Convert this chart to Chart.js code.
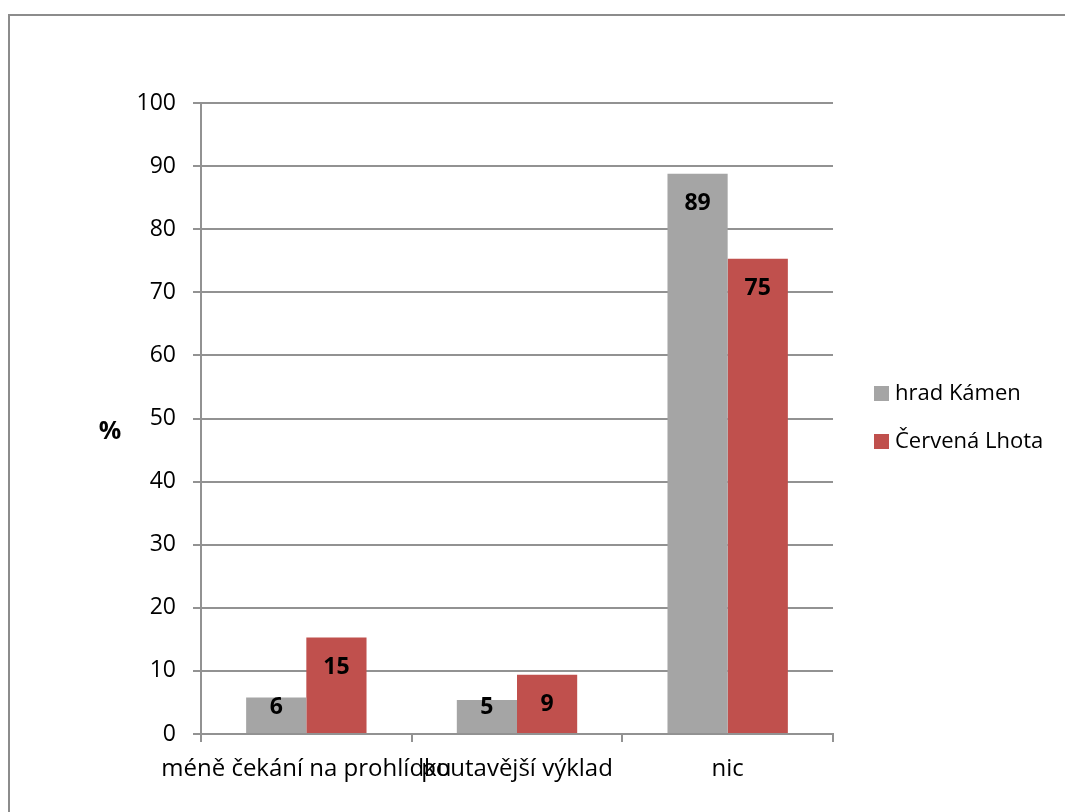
<!DOCTYPE html>
<html>
<head>
<meta charset="utf-8">
<script src="https://cdn.jsdelivr.net/npm/chart.js@4.4.1/dist/chart.umd.min.js"></script>
<style>
  html, body { margin: 0; padding: 0; background: #fff; overflow: hidden; }
  #wrap { position: relative; width: 1065px; height: 812px; }
  #frame { position: absolute; left: 8px; top: 14px; width: 1200px; height: 900px;
           border-left: 2px solid #8c8c8c; border-top: 2px solid #8c8c8c; box-sizing: border-box; }
  #cv { position: absolute; left: 0; top: 0; }
</style>
</head>
<body>
<div id="wrap">
  <div id="frame"></div>
  <canvas id="cv" width="1065" height="812"></canvas>
</div>
<script>
// Survey answers: what would improve the castle tour (share of respondents, %)
const categories = ['méně čekání na prohlídku', 'poutavější výklad', 'nic'];
const hradKamen = [5.8, 5.4, 88.8];
const cervenaLhota = [15.3, 9.4, 75.3];
const seriesNames = ['hrad Kámen', 'Červená Lhota'];
const yTicks = [0, 10, 20, 30, 40, 50, 60, 70, 80, 90, 100];
const axisTitle = '%';

const FONT = '"Open Sans", Lato, sans-serif';
const GRID = '#929292';
const colors = ['#A5A5A5', '#C0504D'];

// Value labels sit just inside the top of each bar, kept clear of the axis for short bars
const valueLabels = {
  id: 'valueLabels',
  afterDatasetsDraw(chart) {
    const ctx = chart.ctx;
    const base = chart.scales.y.getPixelForValue(0);
    ctx.save();
    ctx.font = 'bold 23px ' + FONT;
    ctx.fillStyle = '#000';
    ctx.textAlign = 'center';
    ctx.textBaseline = 'middle';
    chart.data.datasets.forEach((ds, i) => {
      chart.getDatasetMeta(i).data.forEach((el, j) => {
        const y = Math.min(el.y + 30, base - 27);
        ctx.fillText(String(Math.round(ds.data[j])), el.x, y);
      });
    });
    ctx.restore();
  }
};

// Axis title and legend drawn beside the plot
const sideTexts = {
  id: 'sideTexts',
  afterDraw(chart) {
    const ctx = chart.ctx;
    ctx.save();
    ctx.font = 'bold 25px ' + FONT;
    ctx.fillStyle = '#000';
    ctx.textAlign = 'center';
    ctx.textBaseline = 'middle';
    ctx.fillText(axisTitle, 110, 432);

    ctx.font = '22px ' + FONT;
    ctx.textAlign = 'left';
    chart.data.datasets.forEach((ds, i) => {
      const cy = 393 + i * 48;
      ctx.fillStyle = ds.backgroundColor;
      ctx.fillRect(874, cy - 7, 15, 15);
      ctx.fillStyle = '#000';
      ctx.fillText(ds.label, 895, cy + 1);
    });
    ctx.restore();
  }
};

new Chart(document.getElementById('cv'), {
  type: 'bar',
  data: {
    labels: categories,
    datasets: [
      { label: seriesNames[0], data: hradKamen, backgroundColor: colors[0] },
      { label: seriesNames[1], data: cervenaLhota, backgroundColor: colors[1] }
    ]
  },
  options: {
    responsive: false,
    animation: false,
    layout: { padding: { top: 103, right: 232, left: 0, bottom: 0 } },
    datasets: { bar: { categoryPercentage: 2 / 3.5, barPercentage: 1, borderWidth: 0 } },
    plugins: { legend: { display: false }, tooltip: { enabled: false } },
    scales: {
      x: {
        grid: { offset: true, drawOnChartArea: false, drawTicks: true, tickLength: 8, color: GRID, lineWidth: 2 },
        border: { display: true, color: GRID, width: 2 },
        ticks: { autoSkip: false, maxRotation: 0, minRotation: 0, padding: 13, color: '#000', font: { family: FONT, size: 24 } },
        afterFit(s) { s.height = 812 - 734; }
      },
      y: {
        min: 0, max: 100,
        afterBuildTicks(s) { s.ticks = yTicks.map(v => ({ value: v })); },
        grid: { color: GRID, lineWidth: 2, tickLength: 8, drawTicks: true },
        border: { display: true, color: GRID, width: 2 },
        ticks: { padding: 17, color: '#000', font: { family: FONT, size: 23 } },
        afterFit(s) { s.width = 201; }
      }
    }
  },
  plugins: [valueLabels, sideTexts]
});
</script>
</body>
</html>
